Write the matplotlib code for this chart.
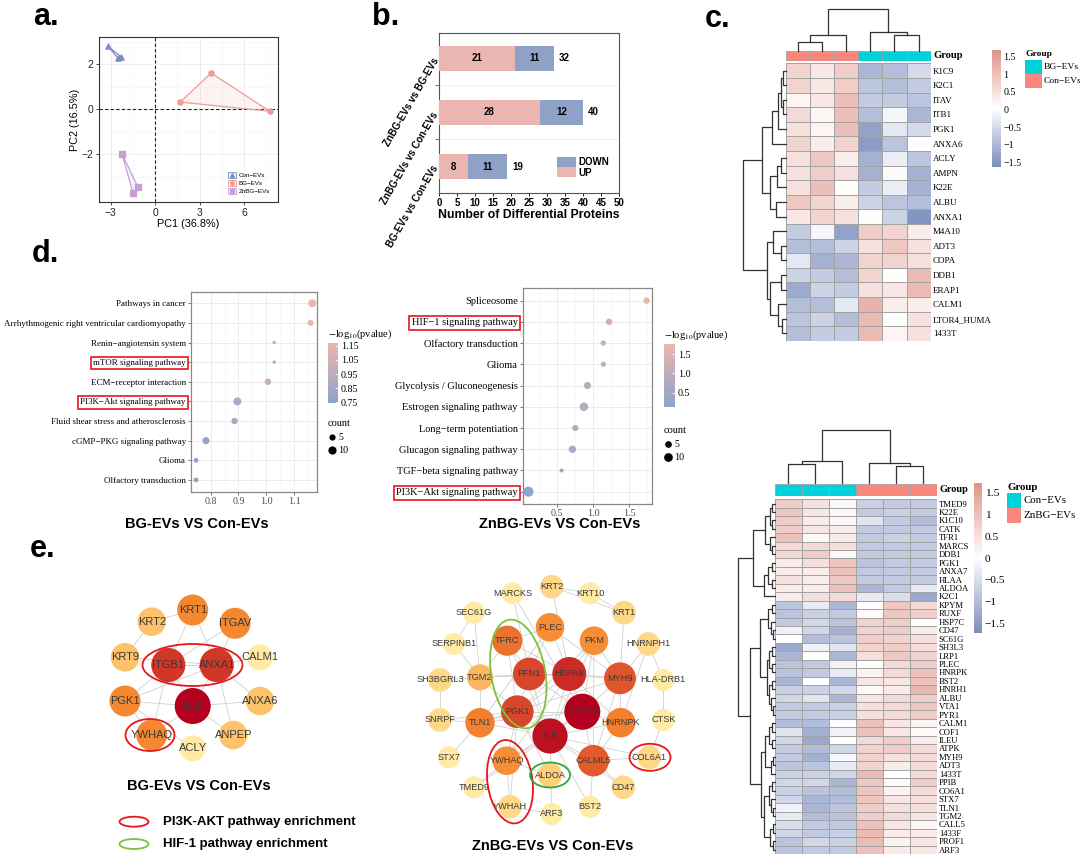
import numpy as np
import matplotlib
matplotlib.use('Agg')
import matplotlib.pyplot as plt
from matplotlib import font_manager
from matplotlib.patches import Circle, Ellipse, Rectangle, Polygon, Patch
from matplotlib.lines import Line2D
from matplotlib.colors import LinearSegmentedColormap, Normalize, to_rgba
from matplotlib.cm import ScalarMappable

# ---------------------------------------------------------------- data
# a. PCA scores
pca_labels = ['Con−EVs', 'BG−EVs', 'ZnBG−EVs']
pc1_con = [-3.2, -2.54, -2.31]
pc2_con = [2.8, 2.28, 2.31]
pc1_bg = [1.69, 3.78, 7.75]
pc2_bg = [0.31, 1.6, -0.1]
pc1_znbg = [-2.25, -1.17, -1.5]
pc2_znbg = [-1.98, -3.47, -3.73]

# b. differential proteins (bottom -> top)
comparisons = ['BG-EVs vs Con-EVs', 'ZnBG-EVs vs Con-EVs', 'ZnBG-EVs vs BG-EVs']
n_up = [8, 28, 21]
n_down = [11, 12, 11]

# c. heatmap BG-EVs vs Con-EVs
heat1_rows = ['K1C9', 'K2C1', 'ITAV', 'ITB1', 'PGK1', 'ANXA6', 'ACLY', 'AMPN', 'K22E', 'ALBU',
              'ANXA1', 'M4A10', 'ADT3', 'COPA', 'DDB1', 'ERAP1', 'CALM1', 'LTOR4_HUMA', '1433T']
heat1_groups = ['Con−EVs'] * 3 + ['BG−EVs'] * 3
heat1_vals = [
    [0.7, 0.4, 0.8, -1.0, -0.9, -0.5],
    [0.7, 0.4, 0.8, -0.8, -0.9, -0.7],
    [0.2, 0.4, 1.0, -0.7, -0.7, -0.8],
    [0.6, 0.2, 1.0, -0.9, -0.1, -1.0],
    [0.5, 0.2, 1.0, -1.3, -0.3, -0.5],
    [0.7, 0.3, 0.7, -1.4, -0.8, 0.05],
    [0.5, 0.9, 0.3, -1.1, -0.2, -0.8],
    [0.5, 0.8, 0.5, -1.1, 0.1, -1.1],
    [0.5, 1.0, 0.05, -0.7, -0.2, -1.1],
    [0.9, 0.7, 0.3, -0.6, -0.8, -0.9],
    [0.4, 0.7, 0.5, 0.05, -0.6, -1.5],
    [-0.7, -0.1, -1.3, 0.8, 0.7, 0.3],
    [-0.9, -0.9, -0.6, 0.5, 0.9, 0.5],
    [-0.3, -1.1, -1.0, 0.7, 0.7, 0.5],
    [-0.6, -0.7, -0.9, 0.7, 0.05, 1.1],
    [-1.2, -0.6, -0.7, 0.5, 0.4, 1.1],
    [-0.9, -0.9, -0.3, 1.2, 0.3, 0.3],
    [-0.8, -0.6, -0.9, 1.1, 0.0, 0.5],
    [-0.9, -0.7, -0.7, 1.1, 0.2, 0.5],
]
# trees: leaf index or (left, right, height)
heat1_col_tree = (((0, 1, 27), 2, 47), (3, (4, 5, 47), 55), 124)
heat1_row_tree = (
    (((((0, 1, 7), (2, 3, 7), 15), 4, 24), 5, 42),
     (((6, 7, 15), 8, 25), (9, 10, 30), 47), 72),
    ((11, (12, 13, 15), 37),
     ((14, 15, 15), (16, (17, 18, 12), 22), 47), 55),
    129)

# c. heatmap ZnBG-EVs vs Con-EVs
heat2_rows = ['TMED9', 'K22E', 'K1C10', 'CATK', 'TFR1', 'MARCS', 'DDB1', 'PGK1', 'ANXA7', 'HLAA',
              'ALDOA', 'K2C1', 'KPYM', 'RUXF', 'HSP7C', 'CD47', 'SC61G', 'SH3L3', 'LRP1', 'PLEC',
              'HNRPK', 'BST2', 'HNRH1', 'ALBU', 'VTA1', 'PYR1', 'CALM1', 'COF1', 'ILEU', 'ATPK',
              'MYH9', 'ADT3', '1433T', 'PPIB', 'CO6A1', 'STX7', 'TLN1', 'TGM2', 'CALL5', '1433F',
              'PROF1', 'ARF3']
heat2_groups = ['Con−EVs'] * 3 + ['ZnBG−EVs'] * 3
heat2_vals = [
    [0.8, 0.5, 0.1, -0.7, -0.8, -0.8],
    [0.9, 0.4, 0.1, -0.8, -0.7, -0.8],
    [0.8, 0.3, 0.1, -0.4, -0.8, -1.0],
    [0.8, 0.4, 0.3, -0.8, -0.8, -0.8],
    [1.0, 0.1, 0.3, -0.8, -0.7, -0.8],
    [0.6, 0.6, 0.5, -0.8, -0.8, -0.8],
    [0.6, 0.8, 0.1, -0.8, -0.8, -0.8],
    [0.3, 0.5, 0.9, -0.9, -0.8, -0.8],
    [0.3, 0.3, 1.0, -0.8, -0.8, -0.8],
    [0.5, 0.3, 0.9, -0.8, -0.8, -0.8],
    [0.3, 0.3, 1.0, -1.1, -0.8, -0.3],
    [0.3, 0.5, 0.6, -0.3, -0.5, -1.3],
    [-0.9, -0.3, -1.1, 0.05, 0.9, 0.6],
    [-0.9, -0.7, -0.8, 0.1, 0.9, 0.8],
    [-0.8, -0.6, -0.9, 0.7, 0.8, 0.05],
    [-0.2, -0.6, -1.2, 0.7, 0.8, 0.3],
    [0.0, -1.0, -0.9, 0.8, 0.7, 0.5],
    [-1.3, -0.2, -0.4, 0.7, 0.8, 0.5],
    [-1.1, 0.0, -1.1, 0.5, 0.9, 0.7],
    [-0.9, -0.8, -0.2, 0.0, 0.6, 0.8],
    [-0.9, -0.8, -0.3, 0.2, 0.6, 1.0],
    [-1.1, 0.0, -1.1, 0.4, 0.4, 1.0],
    [-0.7, -0.7, -0.6, 0.1, 0.3, 1.2],
    [-0.6, -0.4, -1.1, 0.4, 0.6, 0.8],
    [-0.8, -0.8, -0.7, 0.5, 0.6, 0.9],
    [-0.8, -0.8, -0.7, 0.5, 0.6, 0.8],
    [-1.0, -1.0, 0.05, 1.0, 0.4, 0.2],
    [-0.4, -1.2, -0.2, 1.0, 0.4, 0.1],
    [-0.6, -1.3, 0.0, 0.6, 0.8, 0.3],
    [-0.8, -1.0, -0.6, 0.7, 0.8, 0.6],
    [-0.8, -1.2, -0.1, 0.7, 0.5, 0.6],
    [-0.9, -0.9, -0.3, 0.7, 0.3, 0.6],
    [-0.7, -0.7, -0.6, 1.1, 0.0, 0.6],
    [-0.6, -0.6, -1.1, 0.9, 0.1, 0.8],
    [-0.7, -0.9, -1.0, 0.9, 0.2, 0.6],
    [-0.6, -1.1, -1.0, 0.9, 0.4, 0.5],
    [-0.2, -1.1, -0.9, 0.8, 0.5, 0.5],
    [-0.3, -1.0, -0.9, 0.8, 0.6, 0.4],
    [-0.5, -0.8, -0.8, 1.0, 0.4, 0.1],
    [-0.6, -0.8, -0.7, 1.1, 0.3, 0.3],
    [-0.9, -0.6, -0.7, 1.1, 0.2, 0.4],
    [-0.9, -0.8, -0.8, 1.0, 0.3, 0.4],
]
heat2_col_tree = (((0, 1, 57), 2, 67), (3, (4, 5, 50), 60), 160)
heat2_row_tree = (
    ((((0, 1, 3), (2, 3, 3), 5), (4, (5, 6, 3), 5), 9),
     (((7, 8, 3), (9, 10, 3), 7), 11, 10), 21),
    ((((12, 13, 3), (14, (15, 16, 2), 4), 7),
      (((17, 18, 3), (19, 20, 3), 6), ((21, 22, 3), (23, (24, 25, 2), 4), 6), 8), 14),
     ((((26, 27, 3), (28, 29, 3), 6), ((30, 31, 2), 32, 4), 9),
      (((33, 34, 3), (35, (36, 37, 2), 4), 6), ((38, 39, 2), (40, 41, 2), 5), 10), 13), 24),
    35)

# d. KEGG enrichment
terms_bg = ['Pathways in cancer', 'Arrhythmogenic right ventricular cardiomyopathy',
            'Renin−angiotensin system', 'mTOR signaling pathway', 'ECM−receptor interaction',
            'PI3K−Akt signaling pathway', 'Fluid shear stress and atherosclerosis',
            'cGMP−PKG signaling pathway', 'Glioma', 'Olfactory transduction']
logp_bg = [1.166, 1.16, 1.029, 1.029, 1.006, 0.896, 0.886, 0.783, 0.747, 0.747]
count_bg = [13, 8, 2, 2, 9, 13, 9, 11, 5, 5]
boxed_bg = ['mTOR signaling pathway', 'PI3K−Akt signaling pathway']

terms_zn = ['Spliceosome', 'HIF−1 signaling pathway', 'Olfactory transduction', 'Glioma',
            'Glycolysis / Gluconeogenesis', 'Estrogen signaling pathway', 'Long−term potentiation',
            'Glucagon signaling pathway', 'TGF−beta signaling pathway', 'PI3K−Akt signaling pathway']
logp_zn = [1.74, 1.22, 1.14, 1.14, 0.92, 0.87, 0.75, 0.71, 0.56, 0.10]
count_zn = [8, 8, 5, 5, 10, 13, 7, 10, 2, 17]
boxed_zn = ['HIF−1 signaling pathway', 'PI3K−Akt signaling pathway']

# e. PPI networks (layout positions and degree)
net_bg_pos = {'KRT1': (192.7, 610), 'KRT2': (151.7, 621.7), 'ITGAV': (235, 623.3), 'KRT9': (125, 657.3),
              'ITGB1': (168.3, 665), 'ANXA1': (216.7, 665), 'CALM1': (260, 657.3), 'PGK1': (125, 701),
              'ALB': (192.7, 706), 'ANXA6': (260, 701), 'YWHAQ': (151.7, 735), 'ANPEP': (233.3, 735),
              'ACLY': (192.7, 748.3)}
net_bg_deg = {'ALB': 10, 'ITGB1': 8.5, 'ANXA1': 8.5, 'KRT1': 6, 'ITGAV': 6, 'PGK1': 6, 'YWHAQ': 6,
              'KRT2': 4, 'KRT9': 4, 'ANXA6': 4, 'ANPEP': 4, 'CALM1': 2, 'ACLY': 2}
net_bg_edges = [('KRT2', 'KRT1'), ('KRT2', 'KRT9'), ('KRT1', 'ITGB1'), ('KRT1', 'ANXA1'),
                ('ITGAV', 'ITGB1'), ('ITGAV', 'ANXA1'), ('ITGB1', 'ANXA1'), ('ITGB1', 'ALB'),
                ('ANXA1', 'ALB'), ('KRT9', 'ANXA1'), ('CALM1', 'ANXA1'), ('ANXA1', 'ANXA6'),
                ('PGK1', 'ALB'), ('PGK1', 'ANXA1'), ('PGK1', 'YWHAQ'), ('PGK1', 'ACLY'),
                ('ALB', 'ANXA6'), ('ALB', 'ANPEP'), ('ALB', 'YWHAQ'), ('ANXA1', 'ANPEP'),
                ('ITGB1', 'PGK1'), ('ITGB1', 'YWHAQ')]

net_zn_pos = {'MARCKS': (512.7, 593.3), 'KRT2': (551.7, 586.7), 'KRT10': (590, 593.3),
              'SEC61G': (474, 612.7), 'KRT1': (624, 612.7), 'PLEC': (550, 627.3), 'TFRC': (507.3, 640.7),
              'PKM': (594, 640.7), 'SERPINB1': (454, 644), 'HNRNPH1': (648.3, 644), 'PFN1': (529.3, 674),
              'HSPA8': (569.3, 674), 'MYH9': (620, 678.3), 'TGM2': (480, 677.3), 'SH3BGRL3': (440, 680),
              'HLA-DRB1': (663.3, 680), 'PGK1': (517.3, 711.7), 'CALM3': (582.3, 711.7), 'TLN1': (480, 722.7),
              'SNRPF': (440, 720), 'HNRNPK': (620.7, 722.7), 'CTSK': (663.3, 720), 'ALB': (550, 736),
              'STX7': (449, 757.3), 'YWHAQ': (506.7, 760.7), 'CALML5': (593.3, 760.7), 'COL6A1': (649.3, 757.3),
              'ALDOA': (550, 775), 'TMED9': (474, 787.3), 'CD47': (623.3, 787.3), 'YWHAH': (510, 806.7),
              'ARF3': (551.7, 814), 'BST2': (590, 806.7)}
net_zn_deg = {'CALM3': 20, 'ALB': 19, 'HSPA8': 17.5, 'PFN1': 16, 'PGK1': 16, 'MYH9': 15, 'CALML5': 14.5,
              'TFRC': 13, 'HNRNPK': 12, 'TLN1': 12, 'PKM': 11, 'PLEC': 11, 'YWHAQ': 11, 'TGM2': 8,
              'ALDOA': 6, 'KRT2': 5, 'KRT1': 5, 'SH3BGRL3': 5, 'SNRPF': 5, 'HNRNPH1': 5, 'COL6A1': 5,
              'CD47': 5, 'YWHAH': 5, 'MARCKS': 3, 'KRT10': 3, 'SEC61G': 3, 'SERPINB1': 3, 'HLA-DRB1': 3,
              'CTSK': 3, 'STX7': 3, 'TMED9': 3, 'ARF3': 3, 'BST2': 3}
net_zn_edges = [
    ('KRT2', 'KRT10'), ('KRT2', 'KRT1'), ('KRT10', 'KRT1'), ('KRT2', 'HSPA8'), ('KRT1', 'MYH9'),
    ('MARCKS', 'CALM3'), ('MARCKS', 'PFN1'), ('SEC61G', 'SERPINB1'), ('SEC61G', 'TGM2'),
    ('SERPINB1', 'TGM2'), ('SH3BGRL3', 'TGM2'), ('SH3BGRL3', 'SNRPF'), ('SNRPF', 'PGK1'),
    ('SNRPF', 'TLN1'), ('STX7', 'TLN1'), ('TMED9', 'YWHAQ'), ('TMED9', 'ALB'), ('HNRNPH1', 'MYH9'),
    ('HNRNPH1', 'HNRNPK'), ('HLA-DRB1', 'CTSK'), ('HLA-DRB1', 'HNRNPH1'), ('CTSK', 'COL6A1'),
    ('COL6A1', 'CALML5'), ('COL6A1', 'ALB'), ('CD47', 'CALML5'), ('CD47', 'ALB'), ('BST2', 'CALML5'),
    ('BST2', 'ALB'), ('ARF3', 'ALB'), ('ARF3', 'YWHAH'), ('YWHAQ', 'YWHAH'), ('YWHAH', 'PGK1'),
    ('ALDOA', 'ALB'), ('ALDOA', 'PGK1'), ('ALDOA', 'YWHAQ'), ('PFN1', 'HSPA8'), ('PFN1', 'PGK1'),
    ('PFN1', 'TFRC'), ('PFN1', 'TGM2'), ('PFN1', 'CALM3'), ('PFN1', 'ALB'), ('PFN1', 'MYH9'),
    ('PFN1', 'PLEC'), ('HSPA8', 'CALM3'), ('HSPA8', 'ALB'), ('HSPA8', 'MYH9'), ('HSPA8', 'PKM'),
    ('HSPA8', 'PLEC'), ('HSPA8', 'PGK1'), ('HSPA8', 'HNRNPK'), ('HSPA8', 'TFRC'), ('HSPA8', 'TGM2'),
    ('HSPA8', 'YWHAQ'), ('CALM3', 'ALB'), ('CALM3', 'MYH9'), ('CALM3', 'CALML5'), ('CALM3', 'HNRNPK'),
    ('CALM3', 'PKM'), ('CALM3', 'PGK1'), ('CALM3', 'TLN1'), ('CALM3', 'YWHAQ'), ('ALB', 'PGK1'),
    ('ALB', 'CALML5'), ('ALB', 'TLN1'), ('ALB', 'YWHAQ'), ('ALB', 'HNRNPK'), ('ALB', 'PKM'),
    ('ALB', 'TFRC'), ('PGK1', 'TLN1'), ('PGK1', 'TGM2'), ('PGK1', 'TFRC'), ('PGK1', 'YWHAQ'),
    ('PGK1', 'PKM'), ('TFRC', 'TGM2'), ('TFRC', 'PLEC'), ('PLEC', 'MYH9'), ('PLEC', 'TLN1'),
    ('PKM', 'MYH9'), ('MYH9', 'HNRNPK'), ('MYH9', 'TLN1'), ('MYH9', 'CALML5'), ('HNRNPK', 'CALML5'),
    ('TLN1', 'TGM2'), ('CALML5', 'PKM')]

# ---------------------------------------------------------------- style
names = {f.name for f in font_manager.fontManager.ttflist}
SANS = 'Liberation Sans'
NARROW = 'Liberation Sans Narrow' if 'Liberation Sans Narrow' in names else 'Liberation Sans'
SERIF = 'Liberation Serif'
plt.rcParams['font.family'] = [SANS, 'DejaVu Sans']
plt.rcParams['mathtext.fontset'] = 'stix'

heat_cmap = LinearSegmentedColormap.from_list('hm', ['#7A8DBD', '#FFFFFF', '#DF9489'])
dot_cmap = LinearSegmentedColormap.from_list('dt', ['#8DA3CB', '#EDB5AE'])
node_cmap = LinearSegmentedColormap.from_list('nd', ['#FFEBA5', '#FDC26A', '#F5872F', '#DA4A2C', '#B3001E'])
TEAL, SALMON = '#00D2DC', '#F8877C'
UP_C, DOWN_C = '#EBB5B2', '#8EA1C7'

W, H = 1080, 856
fig = plt.figure(figsize=(W / 100, H / 100), dpi=100)
canvas = fig.add_axes([0, 0, 1, 1])
canvas.set_xlim(0, W)
canvas.set_ylim(H, 0)
canvas.axis('off')


def add_ax(l, t, r, b):
    return fig.add_axes([l / W, 1 - b / H, (r - l) / W, (b - t) / H])


# panel letters
for lab, x, y in [('a.', 33, 25), ('b.', 372, 25), ('c.', 705, 27), ('d.', 32, 262), ('e.', 30, 557)]:
    canvas.text(x, y, lab, fontsize=22, fontweight='bold', family=NARROW, va='baseline', ha='left')

# ---------------------------------------------------------------- a. PCA
ax = add_ax(99, 37, 278, 202)
pca_sets = [(pc1_con, pc2_con, '#7B8EC3', '^'), (pc1_bg, pc2_bg, '#EE9C94', 'o'),
            (pc1_znbg, pc2_znbg, '#C8A0D6', 's')]
handles = []
for (x, y, c, mk), lab in zip(pca_sets, pca_labels):
    ax.add_patch(Polygon(np.column_stack([x, y]), closed=True, fc=to_rgba(c, 0.13), ec=c, lw=0.9, zorder=3))
    ax.scatter(x, y, marker=mk, s=14, color=c, zorder=4)
    handles.append((Patch(fc=to_rgba(c, 0.13), ec=c, lw=0.6),
                    Line2D([], [], marker=mk, color=c, ls='none', markersize=2.6)))
ax.axhline(0, color='#222222', ls=(0, (3, 2)), lw=0.8, zorder=2)
ax.axvline(0, color='#222222', ls=(0, (3, 2)), lw=0.8, zorder=2)
ax.set_xlim(-3.8, 8.3)
ax.set_ylim(-4.13, 3.2)
ax.set_xticks([-3, 0, 3, 6])
ax.set_yticks([-2, 0, 2])
ax.set_xticks([-1.5, 1.5, 4.5, 7.5], minor=True)
ax.set_yticks([-3, -1, 1, 3], minor=True)
ax.grid(which='major', color='#EBEBEB', lw=0.6)
ax.grid(which='minor', color='#F3F3F3', lw=0.4)
ax.set_axisbelow(True)
ax.tick_params(which='major', labelsize=7.5, length=2.5, width=0.6, color='#333333', labelcolor='#222222', pad=1.5)
ax.tick_params(which='minor', length=0)
for s in ax.spines.values():
    s.set_color('#333333')
    s.set_linewidth(0.8)
ax.set_xlabel('PC1 (36.8%)', fontsize=7.8, labelpad=1)
ax.set_ylabel('PC2 (16.5%)', fontsize=7.8, labelpad=1)
ax.legend(handles, pca_labels, loc='lower right', bbox_to_anchor=(0.98, 0.02), fontsize=4.5,
          frameon=False, handlelength=1.2, handleheight=1.0, labelspacing=0.35, handletextpad=0.5,
          borderpad=0.2)

# ---------------------------------------------------------------- b. bars
ax = add_ax(439, 33, 619, 193)
yb = np.arange(len(comparisons))
ax.barh(yb, n_up, height=0.475, color=UP_C, label='UP', zorder=3)
ax.barh(yb, n_down, left=n_up, height=0.475, color=DOWN_C, label='DOWN', zorder=3)
for i in range(len(comparisons)):
    tot = n_up[i] + n_down[i]
    ax.text(n_up[i] / 2, yb[i], str(n_up[i]), ha='center', va='center', fontsize=7,
            fontweight='bold', family=NARROW, zorder=4)
    ax.text(n_up[i] + n_down[i] / 2, yb[i], str(n_down[i]), ha='center', va='center', fontsize=7,
            fontweight='bold', family=NARROW, zorder=4)
    ax.text(tot + 1.3, yb[i], str(tot), ha='left', va='center', fontsize=7,
            fontweight='bold', family=NARROW)
ax.set_xlim(0, 50)
ax.set_ylim(-0.49, 2.47)
ax.set_xticks(np.arange(0, 51, 5))
ax.set_yticks(yb)
ax.set_yticklabels(comparisons, rotation=60, ha='right', va='center', rotation_mode='anchor',
                   fontsize=7, fontweight='bold', family=NARROW)
ax.set_yticks([0.5, 1.5], minor=True)
ax.grid(which='minor', axis='y', color='#EEEEEE', lw=0.6)
ax.tick_params(axis='y', which='major', length=0, pad=2)
ax.tick_params(axis='y', which='minor', length=3, width=0.6, color='#555555')
ax.tick_params(axis='x', length=2.5, width=0.6, pad=1, labelsize=7)
for t in ax.get_xticklabels():
    t.set_fontweight('bold')
    t.set_family(NARROW)
for s in ax.spines.values():
    s.set_color('#555555')
    s.set_linewidth(0.8)
ax.set_xlabel('Number of Differential Proteins', fontsize=8.8, fontweight='bold', family=NARROW, labelpad=1)
hs, ls = ax.get_legend_handles_labels()
ax.legend(hs[::-1], ls[::-1], loc='lower right', bbox_to_anchor=(0.98, 0.06),
          prop={'family': NARROW, 'weight': 'bold', 'size': 7}, frameon=False,
          handlelength=1.9, handleheight=1.2, labelspacing=0.0, handletextpad=0.3, borderpad=0.1)


# ---------------------------------------------------------------- c. heatmaps
def tree_segments(node, segs):
    if isinstance(node, int):
        return node + 0.5, 0.0
    a, b, h = node
    pa, ha = tree_segments(a, segs)
    pb, hb = tree_segments(b, segs)
    segs.append(([pa, pa, pb, pb], [ha, h, h, hb]))
    return (pa + pb) / 2, h


def draw_heatmap(vals, rows, groups, grp_order, col_tree, row_tree, box, lab_fs, vlim,
                 cbar_box, cbar_fs, leg_xy, leg_fs):
    vals = np.array(vals)
    n, m = vals.shape
    l, t, r, b = box['heat']
    norm = Normalize(vlim[0], vlim[1])
    ax = add_ax(l, t, r, b)
    ax.pcolormesh(np.arange(m + 1), np.arange(n + 1), vals, cmap=heat_cmap, norm=norm,
                  edgecolors='#A3A3A3', linewidth=0.6)
    ax.set_xlim(0, m)
    ax.set_ylim(n, 0)
    ax.set_xticks([])
    ax.yaxis.tick_right()
    ax.set_yticks(np.arange(n) + 0.5)
    ax.set_yticklabels(rows, fontsize=lab_fs, family=SERIF)
    ax.tick_params(length=0, pad=1.5)
    for s in ax.spines.values():
        s.set_visible(False)

    # annotation bar
    axa = add_ax(l, box['annot'][0], r, box['annot'][1])
    grp_col = {g: c for g, c in zip(grp_order, [TEAL, SALMON])}
    for j, g in enumerate(groups):
        axa.add_patch(Rectangle((j, 0), 1, 1, fc=grp_col[g], ec='#A3A3A3', lw=0.6))
    axa.set_xlim(0, m)
    axa.set_ylim(1, 0)
    axa.axis('off')
    axa.text(m + 0.12, 0.5, 'Group', fontsize=lab_fs + 1.2, fontweight='bold', family=SERIF,
             ha='left', va='center')

    # column dendrogram
    axc = add_ax(l, box['cden'][0], r, box['cden'][1])
    segs = []
    tree_segments(col_tree, segs)
    for xs, hs_ in segs:
        axc.plot(xs, hs_, color='#333333', lw=0.9, clip_on=False)
    axc.set_xlim(0, m)
    axc.set_ylim(0, col_tree[2])
    axc.axis('off')

    # row dendrogram
    axr = add_ax(box['rden'][0], t, box['rden'][1], b)
    segs = []
    tree_segments(row_tree, segs)
    for ps, hs_ in segs:
        axr.plot(hs_, ps, color='#333333', lw=0.9, clip_on=False)
    axr.set_xlim(row_tree[2], 0)
    axr.set_ylim(n, 0)
    axr.axis('off')

    # colour bar
    cax = add_ax(*cbar_box)
    cb = fig.colorbar(ScalarMappable(norm=norm, cmap=heat_cmap), cax=cax)
    cb.outline.set_visible(False)
    ticks = [1.5, 1, 0.5, 0, -0.5, -1, -1.5]
    cb.set_ticks(ticks)
    cb.set_ticklabels(['1.5', '1', '0.5', '0', '−0.5', '−1', '−1.5'])
    cax.tick_params(length=0, pad=2, labelsize=cbar_fs)
    for tl in cax.get_yticklabels():
        tl.set_family(SERIF)

    # group legend
    gx, gy, bw, bh = leg_xy
    canvas.text(gx, gy, 'Group', fontsize=leg_fs, fontweight='bold', family=SERIF, ha='left', va='center')
    for k, g in enumerate(grp_order):
        y0 = gy + 6 + k * bh
        canvas.add_patch(Rectangle((gx - 1, y0), bw, bh, fc=grp_col[g], ec='none'))
        canvas.text(gx + bw + 1, y0 + bh / 2, g, fontsize=leg_fs, family=SERIF, ha='left', va='center')


draw_heatmap(heat1_vals, heat1_rows, heat1_groups, ['BG−EVs', 'Con−EVs'], heat1_col_tree, heat1_row_tree,
             {'heat': (785.7, 63.3, 930.7, 340.7), 'annot': (50.7, 61), 'cden': (9, 50.7), 'rden': (743, 785.7)},
             6.5, (-1.62, 1.69), (992, 50, 1000.7, 166.7), 7.2, (1026, 54, 17, 14), 6.8)
draw_heatmap(heat2_vals, heat2_rows, heat2_groups, ['Con−EVs', 'ZnBG−EVs'], heat2_col_tree, heat2_row_tree,
             {'heat': (775, 499.3, 936.7, 854), 'annot': (484, 496), 'cden': (430, 483), 'rden': (738, 775)},
             6.2, (-1.73, 1.73), (974, 483, 982, 633), 8.2, (1008, 487, 14, 15), 7.8)


# ---------------------------------------------------------------- d. enrichment dot plots
def dot_panel(box, terms, logp, counts, xlim, xticks, xminor, vlim, ylim, yfs, boxed, d0,
              cbar_box, cb_ticks, leg_x, leg_y):
    ax = add_ax(*box)
    yy = np.arange(len(terms))[::-1]
    norm = Normalize(*vlim)
    sizes = [((d0 + 0.4 * c) * 0.72) ** 2 for c in counts]
    ax.scatter(logp, yy, s=sizes, c=logp, cmap=dot_cmap, norm=norm, zorder=3, edgecolors='none')
    ax.set_xlim(*xlim)
    ax.set_ylim(*ylim)
    ax.set_xticks(xticks)
    ax.set_xticklabels([('%.1f' % v) for v in xticks])
    ax.set_xticks(xminor, minor=True)
    ax.set_yticks(yy)
    ax.set_yticklabels(terms, fontsize=yfs, family=SERIF)
    for tl in ax.get_yticklabels():
        if tl.get_text() in boxed:
            tl.set_bbox(dict(boxstyle='square,pad=0.25', fc='none', ec='#E8151B', lw=1.2))
    for tl in ax.get_xticklabels():
        tl.set_family(SERIF)
    ax.grid(which='major', color='#EBEBEB', lw=0.7)
    ax.grid(which='minor', axis='x', color='#F4F4F4', lw=0.4)
    ax.set_axisbelow(True)
    ax.tick_params(which='major', length=2, width=0.5, color='#444444', pad=1.5, labelsize=yfs)
    ax.tick_params(axis='x', labelcolor='#4D4D4D', labelsize=7.2)
    ax.tick_params(which='minor', length=0)
    for s in ax.spines.values():
        s.set_color('#888888')
        s.set_linewidth(0.9)

    cax = add_ax(*cbar_box)
    cb = fig.colorbar(ScalarMappable(norm=norm, cmap=dot_cmap), cax=cax)
    cb.outline.set_visible(False)
    cb.set_ticks(cb_ticks)
    cax.tick_params(length=2, width=0.6, color='white', direction='in', pad=2, labelsize=7.2)
    for tl in cax.get_yticklabels():
        tl.set_family(SERIF)
    canvas.text(cbar_box[0], cbar_box[1] - 9, r'$-$log$_{10}$(pvalue)', fontsize=7.5, family=SERIF,
                ha='left', va='center')
    # size legend
    canvas.text(leg_x, leg_y, 'count', fontsize=7.5, family=SERIF, ha='left', va='center')
    for k, c in enumerate([5, 10]):
        yk = leg_y + 14 + k * 13
        canvas.scatter([leg_x + 3.5], [yk], s=((d0 + 0.4 * c) * 0.72) ** 2, color='black')
        canvas.text(leg_x + 10, yk, str(c), fontsize=7.2, family=SERIF, ha='left', va='center')


dot_panel((190.7, 291.7, 317.3, 492.3), terms_bg, logp_bg, count_bg, (0.728, 1.184),
          [0.8, 0.9, 1.0, 1.1], [0.75, 0.85, 0.95, 1.05, 1.15], (0.745, 1.17), (-0.63, 9.59), 6.5,
          boxed_bg, 2.8, (328, 343, 338, 403), [0.75, 0.85, 0.95, 1.05, 1.15], 328, 423)
dot_panel((522.7, 287.7, 652.3, 504), terms_zn, logp_zn, count_zn, (0.02, 1.82),
          [0.5, 1.0, 1.5], [0.25, 0.75, 1.25, 1.75], (0.13, 1.76), (-0.58, 9.61), 7.5,
          boxed_zn, 3.3, (664, 344, 675, 407), [0.5, 1.0, 1.5], 664, 430)

canvas.text(197, 524, 'BG-EVs VS Con-EVs', fontsize=10.5, fontweight='bold', ha='center', va='center')
canvas.text(560, 524, 'ZnBG-EVs VS Con-EVs', fontsize=10.5, fontweight='bold', ha='center', va='center')


# ---------------------------------------------------------------- e. PPI networks
def draw_network(pos, deg, edges, r_min, r_span, lab_fs):
    dmin, dmax = min(deg.values()), max(deg.values())
    for a, b in edges:
        (x1, y1), (x2, y2) = pos[a], pos[b]
        canvas.plot([x1, x2], [y1, y2], color='#CFCFCF', lw=0.6, zorder=1)
    for name, (x, y) in pos.items():
        f = (deg[name] - dmin) / (dmax - dmin)
        canvas.add_patch(Circle((x, y), r_min + r_span * f, fc=node_cmap(f), ec='none', zorder=2))
        canvas.text(x, y, name, fontsize=lab_fs, color='#3A3A3A', ha='center', va='center', zorder=3)


draw_network(net_bg_pos, net_bg_deg, net_bg_edges, 13, 5, 8)
draw_network(net_zn_pos, net_zn_deg, net_zn_edges, 11, 7, 6.6)

RED, GREEN = '#E8151B', '#7DC23A'
for (cx, cy, w, h, ang, col) in [(192.5, 665, 100, 42, 0, RED), (150, 735, 49, 32, 0, RED),
                                 (518.3, 674, 54, 110, 10, GREEN), (510, 781.7, 45, 84, 8, RED),
                                 (550, 775, 40, 25, 0, '#2FA83A'), (650, 757.3, 41, 27, 0, RED)]:
    canvas.add_patch(Ellipse((cx, cy), w, h, angle=-ang, fc='none', ec=col, lw=1.3, zorder=4))

canvas.text(199, 786, 'BG-EVs VS Con-EVs', fontsize=10.5, fontweight='bold', ha='center', va='center')
canvas.text(553, 846, 'ZnBG-EVs VS Con-EVs', fontsize=10.5, fontweight='bold', ha='center', va='center')

canvas.add_patch(Ellipse((134, 821.7), 29, 10, fc='none', ec=RED, lw=1.3))
canvas.add_patch(Ellipse((134, 844), 29, 10, fc='none', ec=GREEN, lw=1.3))
canvas.text(163, 821.7, 'PI3K-AKT pathway enrichment', fontsize=9.5, fontweight='bold', ha='left', va='center')
canvas.text(163, 844, 'HIF-1 pathway enrichment', fontsize=9.5, fontweight='bold', ha='left', va='center')

fig.savefig('out.png', dpi=100)
